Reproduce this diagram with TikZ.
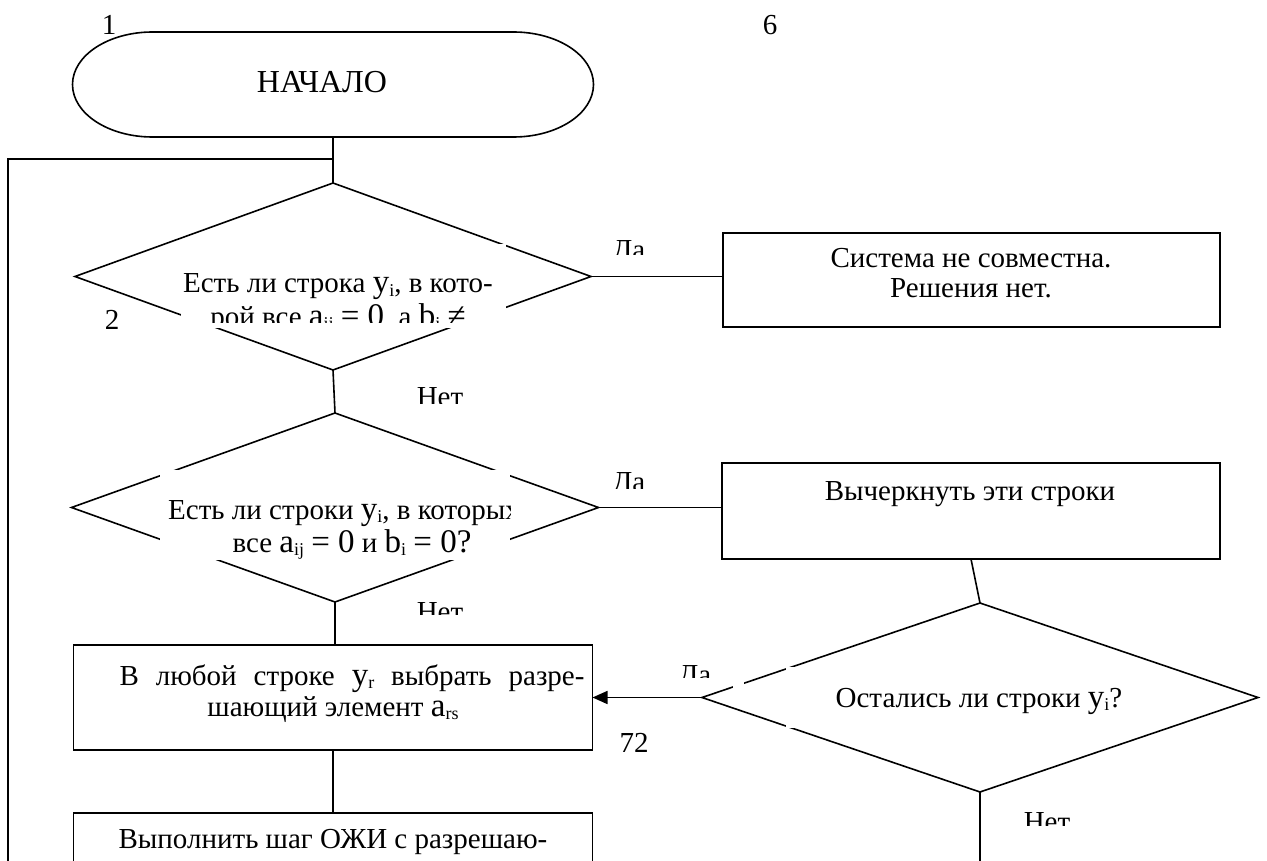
\documentclass[tikz,border=0pt]{standalone}
\usepackage{fontspec}
\setmainfont{Liberation Serif}
\usetikzlibrary{arrows.meta,shapes.geometric}
\newcommand\sbs[1]{\raisebox{-0.3ex}{\fontsize{18}{18}\selectfont #1}}
\newcommand\fm[1]{{\fontsize{33}{33}\selectfont #1}}
\begin{document}
\begin{tikzpicture}[x=1pt,y=-1pt,line width=1.6pt,
  every node/.style={font=\fontsize{29}{33}\selectfont},
  txt/.style={inner sep=0pt,outer sep=0pt,anchor=base},
  procbox/.style={draw,rectangle,inner sep=0pt,outer sep=0pt},
  decision/.style={draw,diamond,inner sep=0pt,outer sep=0pt},
  arr/.style={-{Triangle[length=15pt,width=13pt]}}]
\clip (0,0) rectangle (1267,861);
\fill[white] (0,0) rectangle (1267,861);

% terminal
\node[inner sep=0pt,outer sep=0pt,minimum width=521pt,minimum height=105pt] (start) at (333,84.5) {};
\draw ([xshift=80pt]start.north west) -- ([xshift=-80pt]start.north east)
  arc[start angle=90,end angle=-90,x radius=80pt,y radius=52.5pt]
  -- ([xshift=80pt]start.south west)
  arc[start angle=270,end angle=90,x radius=80pt,y radius=52.5pt] -- cycle;
\node[txt,font=\fontsize{32}{36}\selectfont] (startt) at (322,93) {НАЧАЛО};
\node[txt] (n1) at (109,35) {1};
\node[txt] (n6) at (770,35) {6};

% decisions
\node[decision,minimum width=516pt,minimum height=187pt] (d1) at (333,276.5) {};
\node[decision,minimum width=527pt,minimum height=189pt] (d2) at (335,507.5) {};
\node[decision,minimum width=556pt,minimum height=189pt] (d3) at (980,697.5) {};

% process boxes
\node[procbox,minimum width=497pt,minimum height=94pt] (b2) at (971.5,280) {};
\node[procbox,minimum width=498pt,minimum height=96pt] (b3) at (971,511) {};
\node[procbox,minimum width=519pt,minimum height=105pt] (b4) at (333,697.5) {};
\node[procbox,minimum width=519pt,minimum height=105pt] (b5) at (333,865.5) {};

% connectors
\coordinate (j1) at (333,159);
\coordinate (lt) at (8,159);
\coordinate (lb) at (8,861);
\coordinate (d3end) at (980,861);
\draw (start.south) -- (d1.north);
\draw (j1) -- (lt) -- (lb);
\draw (d1.east) -- (d1.east -| b2.west);
\draw (d1.south) -- (d2.north);
\draw (d2.east) -- (d2.east -| b3.west);
\draw (d2.south) -- (d2.south |- b4.north);
\draw (b3.south) -- (d3.north);
\draw[arr] (d3.west) -- (b4.east);
\draw (b4.south) -- (b5.north);
\draw (d3.south) -- (d3end);

% texts in decisions
\fill[white] (181,244) rectangle (506,328);
\begin{scope}
\clip (181,244) rectangle (506,322);
\node[txt] (d1a) at (338,293) {Есть ли строка \fm{y}\sbs{i}, в кото-};
\node[txt] (d1b) at (338,326) {рой все \fm{a}\sbs{ij} \fm{= 0}, а \fm{b}\sbs{i} \fm{≠}};
\end{scope}

\fill[white] (160,470) rectangle (510,560);
\begin{scope}
\clip (160,470) rectangle (510,560);
\node[txt] (d2a) at (344,519) {Есть ли строки \fm{y}\sbs{i}, в которых};
\node[txt] (d2b) at (352,552) {все \fm{a}\sbs{ij} \fm{= 0} и \fm{b}\sbs{i} \fm{= 0?}};
\end{scope}

\fill[white] (786,667) rectangle (1160,728);
\fill[white] (733,676) rectangle (744,692);
\node[txt] (d3t) at (979,707) {Остались ли строки \fm{y}\sbs{i}?};

% texts in boxes
\node[txt] (b2a) at (971,268) {Система не совместна.};
\node[txt] (b2b) at (971,298) {Решения нет.};
\node[txt] (b3t) at (970,500) {Вычеркнуть эти строки};
\node[txt] (b4a) at (352,685) {\makebox[465pt][s]{В любой строке \fm{y}\sbs{r} выбрать разре-}};
\node[txt] (b4b) at (333,716) {шающий элемент \fm{a}\sbs{rs}};
\node[txt] (b5t) at (333,848) {Выполнить шаг ОЖИ с разрешаю-};

% labels
\begin{scope}\clip (600,230) rectangle (660,255); \node[txt] (da1) at (629,260) {Да}; \end{scope}
\begin{scope}\clip (600,460) rectangle (660,488); \node[txt] (da2) at (629,491) {Да}; \end{scope}
\begin{scope}\clip (670,650) rectangle (720,677); \node[txt] (da3) at (695,684) {Да}; \end{scope}
\begin{scope}\clip (400,375) rectangle (480,403); \node[txt] (no1) at (440,406) {Нет}; \end{scope}
\begin{scope}\clip (400,590) rectangle (480,614); \node[txt] (no2) at (440,621) {Нет}; \end{scope}
\begin{scope}\clip (1010,800) rectangle (1090,825); \node[txt] (no3) at (1047,831) {Нет}; \end{scope}
\node[txt] (n2) at (112,330) {2};
\node[txt] (n72) at (634,752) {72};
\end{tikzpicture}
\end{document}
